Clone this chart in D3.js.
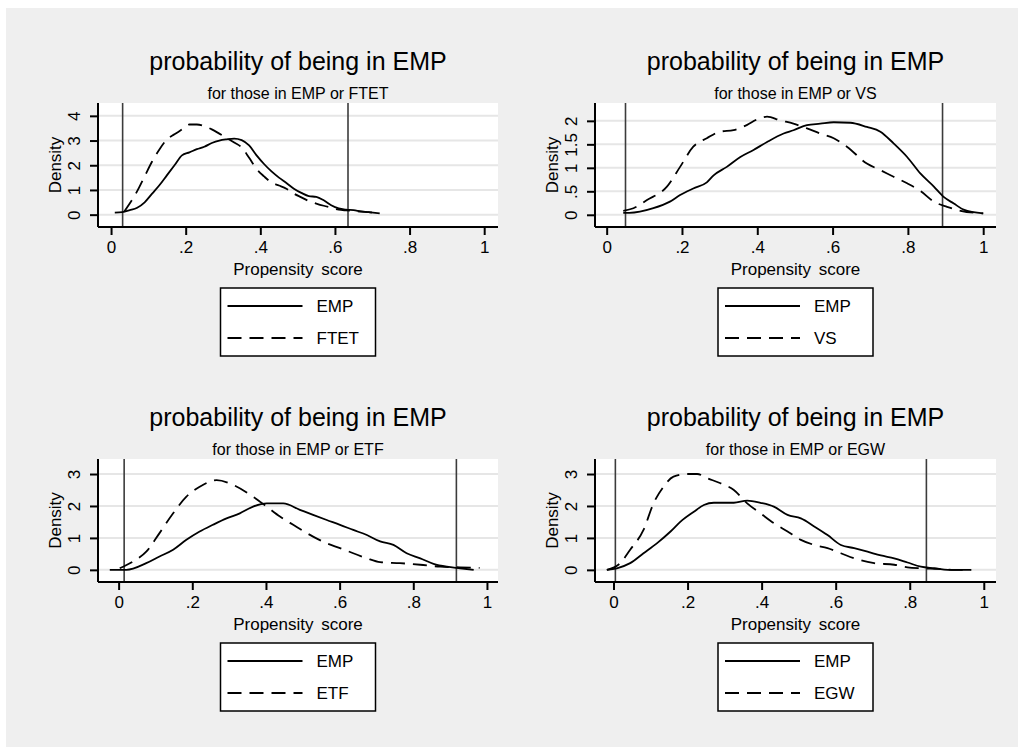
<!DOCTYPE html>
<html>
<head>
<meta charset="utf-8">
<script src="https://cdn.jsdelivr.net/npm/d3@7"></script>
<style>
  html, body { margin: 0; padding: 0; background: #ffffff; }
  svg text { font-family: "Liberation Sans", Arial, sans-serif; fill: #000; }
</style>
</head>
<body>
<svg id="chart" width="1018" height="747"></svg>
<script>
// Kernel densities of the propensity score, EMP vs each comparison group.

// --- EMP vs FTET ---
const ftetEmpX = [0.01,0.03,0.05,0.07,0.09,0.11,0.13,0.15,0.17,0.19,0.21,0.23,0.25,0.27,0.29,0.31,0.33,0.35,0.37,0.39,0.41,0.43,0.45,0.47,0.49,0.51,0.53,0.55,0.57,0.59,0.61,0.63,0.65,0.67,0.69,0.72];
const ftetEmpY = [0.08,0.1,0.18,0.28,0.5,0.85,1.2,1.6,2.0,2.4,2.52,2.65,2.75,2.9,3.0,3.05,3.08,3.02,2.8,2.4,2.05,1.75,1.5,1.28,1.05,0.88,0.75,0.72,0.58,0.38,0.25,0.2,0.18,0.13,0.1,0.05];
const ftetCmpX = [0.035,0.05,0.07,0.09,0.11,0.13,0.15,0.17,0.19,0.21,0.23,0.25,0.27,0.29,0.31,0.33,0.35,0.37,0.39,0.41,0.43,0.45,0.47,0.49,0.51,0.53,0.55,0.57,0.59,0.61,0.63,0.65,0.67,0.69,0.72];
const ftetCmpY = [0.12,0.45,0.95,1.55,2.15,2.65,3.05,3.25,3.45,3.65,3.65,3.58,3.45,3.28,3.1,2.92,2.72,2.3,1.85,1.55,1.3,1.18,1.05,0.85,0.7,0.55,0.45,0.36,0.28,0.2,0.17,0.15,0.12,0.1,0.05];
const ftetBounds = [0.031, 0.635];

// --- EMP vs VS ---
const vsEmpX = [0.044,0.06,0.124,0.168,0.195,0.23,0.266,0.284,0.319,0.355,0.39,0.426,0.47,0.496,0.532,0.567,0.603,0.647,0.691,0.727,0.762,0.798,0.833,0.869,0.895,0.922,0.948,1.0];
const vsEmpY = [0.04,0.04,0.14,0.28,0.42,0.56,0.69,0.84,1.02,1.23,1.38,1.55,1.73,1.8,1.91,1.94,1.97,1.96,1.87,1.77,1.52,1.23,0.88,0.6,0.38,0.24,0.11,0.03];
const vsCmpX = [0.044,0.071,0.106,0.16,0.195,0.23,0.266,0.301,0.337,0.372,0.399,0.426,0.461,0.496,0.532,0.567,0.603,0.638,0.691,0.727,0.762,0.798,0.833,0.869,0.904,0.94,1.0];
const vsCmpY = [0.085,0.14,0.31,0.6,1.02,1.45,1.63,1.77,1.8,1.91,2.03,2.09,2.01,1.94,1.84,1.73,1.63,1.45,1.09,0.95,0.81,0.67,0.51,0.28,0.17,0.085,0.03];
const vsBounds = [0.05, 0.892];

// --- EMP vs ETF ---
const etfEmpX = [-0.024,0.021,0.075,0.111,0.148,0.184,0.22,0.256,0.293,0.329,0.365,0.402,0.447,0.492,0.528,0.565,0.601,0.637,0.674,0.71,0.746,0.782,0.819,0.855,0.891,0.927,0.964];
const etfEmpY = [0,0,0.21,0.42,0.63,0.94,1.2,1.41,1.61,1.77,1.98,2.08,2.08,1.88,1.72,1.56,1.41,1.25,1.09,0.89,0.78,0.52,0.36,0.19,0.1,0.05,0];
const etfCmpX = [0.003,0.039,0.075,0.111,0.148,0.184,0.22,0.266,0.311,0.365,0.402,0.438,0.474,0.528,0.565,0.601,0.637,0.674,0.71,0.764,0.819,0.873,0.927,0.98];
const etfCmpY = [0.05,0.26,0.57,1.15,1.77,2.29,2.6,2.81,2.66,2.29,1.98,1.67,1.41,1.04,0.83,0.68,0.52,0.36,0.24,0.21,0.16,0.1,0.08,0.06];
const etfBounds = [0.015, 0.917];

// --- EMP vs EGW ---
const egwEmpX = [-0.018,0.009,0.045,0.081,0.117,0.154,0.181,0.217,0.244,0.271,0.325,0.361,0.397,0.433,0.47,0.506,0.542,0.578,0.614,0.65,0.686,0.722,0.758,0.794,0.83,0.867,0.903,0.966];
const egwEmpY = [0,0.05,0.21,0.52,0.83,1.2,1.51,1.82,2.03,2.1,2.1,2.17,2.1,1.98,1.72,1.61,1.36,1.09,0.78,0.68,0.57,0.45,0.36,0.23,0.1,0.05,0,0];
const egwCmpX = [-0.018,0.018,0.045,0.081,0.108,0.135,0.162,0.199,0.226,0.253,0.289,0.325,0.361,0.397,0.433,0.47,0.506,0.542,0.578,0.614,0.65,0.704,0.758,0.794,0.83,0.876,0.92,0.966];
const egwCmpY = [0,0.21,0.63,1.25,2.08,2.6,2.92,3.0,3.0,2.87,2.71,2.5,2.08,1.77,1.46,1.2,0.94,0.78,0.68,0.52,0.36,0.21,0.16,0.08,0.05,0.03,0,0];
const egwBounds = [0.005, 0.845];

// Axis ticks
const xTicks = [0, 0.2, 0.4, 0.6, 0.8, 1];
const xTickLabels = ["0", ".2", ".4", ".6", ".8", "1"];
const yTicksFtet = [0, 1, 2, 3, 4];
const yTickLabelsFtet = ["0", "1", "2", "3", "4"];
const yTicksVs = [0, 0.5, 1, 1.5, 2];
const yTickLabelsVs = ["0", ".5", "1", "1.5", "2"];
const yTicks3 = [0, 1, 2, 3];
const yTickLabels3 = ["0", "1", "2", "3"];

// Titles and legend labels
const mainTitle = "probability of being in EMP";
const groups = ["FTET", "VS", "ETF", "EGW"];
const baseGroup = "EMP";
const xAxisTitle = "Propensity score";
const yAxisTitle = "Density";

const zip = (xs, ys) => xs.map((x, i) => ({x, y: ys[i]}));

const panels = [
  { group: groups[0], emp: zip(ftetEmpX, ftetEmpY), cmp: zip(ftetCmpX, ftetCmpY), bounds: ftetBounds,
    yTicks: yTicksFtet, yLabels: yTickLabelsFtet,
    box: {x0: 98, x1: 498, y0: 103, y1: 227}, xDom: [-0.035, 1.037], yDom: [-0.5, 4.52] },
  { group: groups[1], emp: zip(vsEmpX, vsEmpY), cmp: zip(vsCmpX, vsCmpY), bounds: vsBounds,
    yTicks: yTicksVs, yLabels: yTickLabelsVs,
    box: {x0: 595, x1: 996, y0: 103, y1: 227}, xDom: [-0.031, 1.034], yDom: [-0.26, 2.38] },
  { group: groups[2], emp: zip(etfEmpX, etfEmpY), cmp: zip(etfCmpX, etfCmpY), bounds: etfBounds,
    yTicks: yTicks3, yLabels: yTickLabels3,
    box: {x0: 98, x1: 498, y0: 459, y1: 582}, xDom: [-0.056, 1.03], yDom: [-0.38, 3.47] },
  { group: groups[3], emp: zip(egwEmpX, egwEmpY), cmp: zip(egwCmpX, egwCmpY), bounds: egwBounds,
    yTicks: yTicks3, yLabels: yTickLabels3,
    box: {x0: 595, x1: 996, y0: 459, y1: 582}, xDom: [-0.05, 1.033], yDom: [-0.38, 3.47] }
];

const svg = d3.select("#chart");

// outer background
svg.append("rect").attr("x", 0).attr("y", 0).attr("width", 1018).attr("height", 747).attr("fill", "#ffffff");
svg.append("rect").attr("x", 6).attr("y", 8).attr("width", 1012).attr("height", 739).attr("fill", "#efefef");

const DASH = "14,8";

panels.forEach(p => {
  const b = p.box;
  const cx = (b.x0 + b.x1) / 2;
  const x = d3.scaleLinear().domain(p.xDom).range([b.x0, b.x1]);
  const y = d3.scaleLinear().domain(p.yDom).range([b.y1, b.y0]);
  const g = svg.append("g");

  // plot region
  g.append("rect").attr("x", b.x0).attr("y", b.y0)
    .attr("width", b.x1 - b.x0).attr("height", b.y1 - b.y0).attr("fill", "#ffffff");

  // horizontal grid
  g.selectAll("line.grid").data(p.yTicks).join("line")
    .attr("class", "grid")
    .attr("x1", b.x0).attr("x2", b.x1)
    .attr("y1", d => y(d)).attr("y2", d => y(d))
    .attr("stroke", "#e6e6e6").attr("stroke-width", 2);

  // common-support bounds
  g.selectAll("line.bound").data(p.bounds).join("line")
    .attr("class", "bound")
    .attr("x1", d => x(d)).attr("x2", d => x(d))
    .attr("y1", b.y0).attr("y2", b.y1)
    .attr("stroke", "#3c3c3c").attr("stroke-width", 1.6);

  // density curves
  const line = d3.line().x(d => x(d.x)).y(d => y(d.y)).curve(d3.curveMonotoneX);
  g.append("path").datum(p.cmp).attr("d", line)
    .attr("fill", "none").attr("stroke", "#000").attr("stroke-width", 1.8)
    .attr("stroke-dasharray", DASH);
  g.append("path").datum(p.emp).attr("d", line)
    .attr("fill", "none").attr("stroke", "#000").attr("stroke-width", 1.8);

  // x axis
  const xAxis = d3.axisBottom(x).tickValues(xTicks)
    .tickFormat((d, i) => xTickLabels[i]).tickSize(8).tickSizeOuter(0);
  const gx = g.append("g").attr("transform", `translate(0,${b.y1})`).call(xAxis);
  gx.select(".domain").attr("stroke", "#000").attr("stroke-width", 2)
    .attr("d", `M${b.x0},0H${b.x1}`);
  gx.selectAll(".tick line").attr("stroke", "#000").attr("stroke-width", 2);
  gx.selectAll(".tick text").attr("font-size", 17).attr("y", 14).attr("dy", "0.71em")
    .style("font-family", '"Liberation Sans", Arial, sans-serif');

  // y axis with vertical labels
  const yAxis = d3.axisLeft(y).tickValues(p.yTicks)
    .tickFormat((d, i) => p.yLabels[i]).tickSize(8).tickSizeOuter(0);
  const gy = g.append("g").attr("transform", `translate(${b.x0},0)`).call(yAxis);
  gy.select(".domain").attr("stroke", "#000").attr("stroke-width", 2)
    .attr("d", `M0,${b.y0}V${b.y1}`);
  gy.selectAll(".tick line").attr("stroke", "#000").attr("stroke-width", 2);
  gy.selectAll(".tick text")
    .attr("font-size", 17)
    .attr("x", null).attr("dy", null)
    .attr("text-anchor", "middle")
    .attr("transform", "translate(-18,0) rotate(-90)")
    .style("font-family", '"Liberation Sans", Arial, sans-serif');

  // axis titles
  g.append("text").attr("x", cx).attr("y", b.y1 + 48)
    .attr("text-anchor", "middle").attr("font-size", 17).style("word-spacing", "3px")
    .text(xAxisTitle);
  g.append("text")
    .attr("transform", `translate(${b.x0 - 37},${(b.y0 + b.y1) / 2}) rotate(-90)`)
    .attr("text-anchor", "middle").attr("font-size", 17)
    .text(yAxisTitle);

  // titles
  g.append("text").attr("x", cx).attr("y", b.y0 - 33)
    .attr("text-anchor", "middle").attr("font-size", 25).text(mainTitle);
  g.append("text").attr("x", cx).attr("y", b.y0 - 4)
    .attr("text-anchor", "middle").attr("font-size", 16)
    .text(`for those in ${baseGroup} or ${p.group}`);

  // legend
  const lx = cx - 77.5, ly = b.y1 + 61;
  const lg = g.append("g").attr("transform", `translate(${lx},${ly})`);
  lg.append("rect").attr("x", 0).attr("y", 0).attr("width", 155).attr("height", 68)
    .attr("fill", "#ffffff").attr("stroke", "#000").attr("stroke-width", 1.5);
  const items = [{label: baseGroup, dash: null, yy: 18}, {label: p.group, dash: DASH, yy: 50}];
  items.forEach(it => {
    lg.append("line").attr("x1", 7).attr("x2", 82).attr("y1", it.yy).attr("y2", it.yy)
      .attr("stroke", "#000").attr("stroke-width", 1.8)
      .attr("stroke-dasharray", it.dash);
    lg.append("text").attr("x", 96).attr("y", it.yy).attr("dy", "0.36em")
      .attr("font-size", 17).text(it.label);
  });
});
</script>
</body>
</html>
